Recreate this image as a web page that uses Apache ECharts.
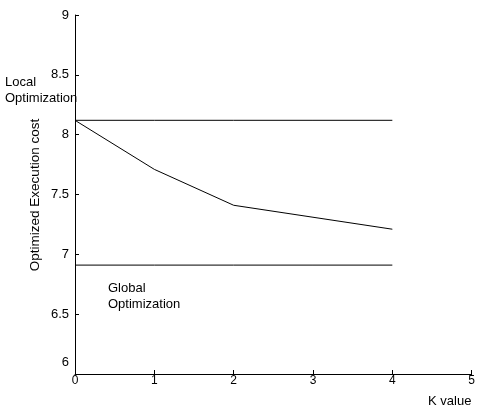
<!DOCTYPE html>
<html>
<head>
<meta charset="utf-8">
<script src="https://cdn.jsdelivr.net/npm/echarts@6/dist/echarts.min.js"></script>
<style>html,body{margin:0;padding:0;background:#fff}#c{width:478px;height:411px}</style>
</head>
<body>
<div id="c"></div>
<script>
var kValues = [0, 1, 2, 3, 4];
var localCost = [8.12, 8.12, 8.12, 8.12, 8.12];
var optimizedCost = [8.12, 7.71, 7.41, 7.31, 7.21];
var globalCost = [6.91, 6.91, 6.91, 6.91, 6.91];
var yTicks = [6, 6.5, 7, 7.5, 8, 8.5, 9];
var xTicks = [0, 1, 2, 3, 4, 5];

function pairs(ys) { return kValues.map(function (k, i) { return [k, ys[i]]; }); }
var FONT = 'Liberation Sans, Arial, sans-serif';
var chart = echarts.init(document.getElementById('c'), null, {renderer: 'canvas'});
function lineSeries(name, ys) {
  return {
    name: name, type: 'line', data: pairs(ys), symbol: 'none',
    lineStyle: {color: '#000', width: 1}, animation: false
  };
}
chart.setOption({
  backgroundColor: '#fff',
  animation: false,
  grid: {left: 75, top: 15, width: 400, height: 359, containLabel: false},
  xAxis: {
    type: 'value', min: xTicks[0], max: xTicks[xTicks.length - 1], interval: 1,
    axisLine: {show: true, lineStyle: {color: '#000', width: 1}},
    axisTick: {show: true, inside: true, length: 4, lineStyle: {color: '#000'}},
    axisLabel: {color: '#000', fontSize: 12, fontFamily: FONT, margin: 1},
    splitLine: {show: false}
  },
  yAxis: {
    type: 'value', min: yTicks[0], max: yTicks[yTicks.length - 1], interval: 0.5,
    axisLine: {show: true, lineStyle: {color: '#000', width: 1}},
    axisTick: {show: true, inside: true, length: 4, lineStyle: {color: '#000'}},
    axisLabel: {
      color: '#000', fontSize: 13, fontFamily: FONT, margin: 6,
      formatter: function (v) { return v === 6 ? '{b|6}' : String(v); },
      rich: {b: {fontSize: 13, fontFamily: FONT, color: '#000', padding: [0, 0, 24, 0]}}
    },
    splitLine: {show: false}
  },
  graphic: [
    {type: 'text', left: 5, top: 74, style: {text: 'Local\nOptimization', font: '13px ' + FONT, fill: '#000', lineHeight: 16}},
    {type: 'text', left: 108, top: 280, style: {text: 'Global\nOptimization', font: '13px ' + FONT, fill: '#000', lineHeight: 16}},
    {type: 'text', left: 428, top: 395, style: {text: 'K value', font: '13px ' + FONT, fill: '#000'}},
    {type: 'text', x: 35, y: 195, rotation: Math.PI / 2,
      style: {text: 'Optimized Execution cost', font: '13.5px ' + FONT, fill: '#000', align: 'center', verticalAlign: 'middle'}}
  ],
  series: [
    lineSeries('Local Optimization', localCost),
    lineSeries('K Optimization', optimizedCost),
    lineSeries('Global Optimization', globalCost)
  ]
});
</script>
</body>
</html>
